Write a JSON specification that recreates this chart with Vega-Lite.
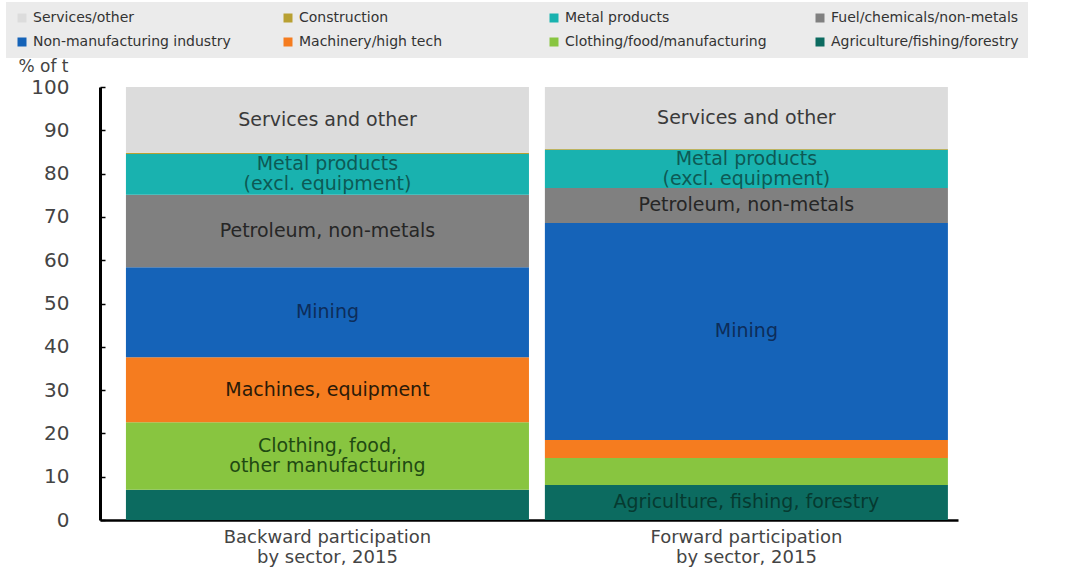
{
  "$schema": "https://vega.github.io/schema/vega-lite/v6.json",
  "width": 858,
  "height": 433,
  "autosize": {"type": "none"},
  "padding": {"left": 100, "top": 87, "right": 108, "bottom": 47},
  "background": "white",
  "config": {"view": {"stroke": null}, "font": "DejaVu Sans"},
  "data": {
    "values": [
      {"part": "Backward participation by sector, 2015", "sector": "Agriculture/fishing/forestry", "k": 1, "value": 7.0, "label": ""},
      {"part": "Backward participation by sector, 2015", "sector": "Clothing/food/manufacturing", "k": 2, "value": 15.6, "label": "Clothing, food,\nother manufacturing"},
      {"part": "Backward participation by sector, 2015", "sector": "Machinery/high tech", "k": 3, "value": 15.0, "label": "Machines, equipment"},
      {"part": "Backward participation by sector, 2015", "sector": "Non-manufacturing industry", "k": 4, "value": 20.8, "label": "Mining"},
      {"part": "Backward participation by sector, 2015", "sector": "Fuel/chemicals/non-metals", "k": 5, "value": 16.7, "label": "Petroleum, non-metals"},
      {"part": "Backward participation by sector, 2015", "sector": "Metal products", "k": 6, "value": 9.4, "label": "Metal products\n(excl. equipment)"},
      {"part": "Backward participation by sector, 2015", "sector": "Construction", "k": 7, "value": 0.3, "label": ""},
      {"part": "Backward participation by sector, 2015", "sector": "Services/other", "k": 8, "value": 15.2, "label": "Services and other"},
      {"part": "Forward participation by sector, 2015", "sector": "Agriculture/fishing/forestry", "k": 1, "value": 8.1, "label": "Agriculture, fishing, forestry"},
      {"part": "Forward participation by sector, 2015", "sector": "Clothing/food/manufacturing", "k": 2, "value": 6.2, "label": ""},
      {"part": "Forward participation by sector, 2015", "sector": "Machinery/high tech", "k": 3, "value": 4.2, "label": ""},
      {"part": "Forward participation by sector, 2015", "sector": "Non-manufacturing industry", "k": 4, "value": 50.1, "label": "Mining"},
      {"part": "Forward participation by sector, 2015", "sector": "Fuel/chemicals/non-metals", "k": 5, "value": 8.1, "label": "Petroleum, non-metals"},
      {"part": "Forward participation by sector, 2015", "sector": "Metal products", "k": 6, "value": 8.8, "label": "Metal products\n(excl. equipment)"},
      {"part": "Forward participation by sector, 2015", "sector": "Construction", "k": 7, "value": 0.2, "label": ""},
      {"part": "Forward participation by sector, 2015", "sector": "Services/other", "k": 8, "value": 14.3, "label": "Services and other"}
    ]
  },
  "transform": [
    {"stack": "value", "groupby": ["part"], "sort": [{"field": "k", "order": "ascending"}], "as": ["v0", "v1"]},
    {"calculate": "(datum.v0 + datum.v1) / 2", "as": "mid"}
  ],
  "encoding": {
    "x": {
      "field": "part",
      "type": "nominal",
      "sort": null,
      "scale": {"paddingInner": 0.038, "paddingOuter": 0.043, "align": 0.72},
      "axis": {
        "title": null,
        "labelAngle": 0,
        "labelFontSize": 18,
        "labelColor": "#444444",
        "labelPadding": 8,
        "labelLineHeight": 20,
        "labelLimit": 500,
        "labelExpr": "[replace(datum.label, ' by sector, 2015', ''), 'by sector, 2015']",
        "ticks": false,
        "domainColor": "#000000",
        "domainWidth": 2.5
      }
    }
  },
  "layer": [
    {
      "mark": {"type": "bar"},
      "encoding": {
        "y": {
          "field": "v0",
          "type": "quantitative",
          "scale": {"domain": [0, 100]},
          "axis": {
            "values": [0, 10, 20, 30, 40, 50, 60, 70, 80, 90, 100],
            "grid": false,
            "labelFontSize": 20,
            "labelColor": "#444444",
            "labelPadding": 36,
            "tickSize": -5,
            "tickColor": "#000000",
            "tickWidth": 1.5,
            "domainColor": "#000000",
            "domainWidth": 3,
            "title": "% of t",
            "titleFontSize": 17,
            "titleFontWeight": "normal",
            "titleColor": "#444444",
            "titleAngle": 0,
            "titleAlign": "left",
            "titleBaseline": "middle",
            "titleX": -82,
            "titleY": -21
          }
        },
        "y2": {"field": "v1"},
        "color": {
          "field": "sector",
          "type": "nominal",
          "scale": {
            "domain": ["Services/other", "Construction", "Metal products", "Fuel/chemicals/non-metals", "Non-manufacturing industry", "Machinery/high tech", "Clothing/food/manufacturing", "Agriculture/fishing/forestry"],
            "range": ["#dcdcdc", "#b8a032", "#19b2af", "#808080", "#1563b8", "#f57c1f", "#88c540", "#0c6b60"]
          },
          "legend": {
            "title": null,
            "orient": "none",
            "legendX": -94,
            "legendY": -85,
            "direction": "horizontal",
            "columns": 4,
            "gridAlign": "all",
            "symbolType": "square",
            "symbolSize": 81,
            "symbolStrokeWidth": 0,
            "labelFontSize": 14,
            "labelColor": "#333333",
            "labelLimit": 300,
            "labelOffset": 4,
            "columnPadding": 46,
            "rowPadding": 10,
            "fillColor": "#ebebeb",
            "padding": 9
          }
        }
      }
    },
    {
      "transform": [{"filter": "datum.label != '' && indexof(datum.label, '\\n') < 0"}],
      "mark": {"type": "text", "align": "center", "baseline": "middle", "fontSize": 19, "lineHeight": 20, "lineBreak": "\n"},
      "encoding": {
        "y": {"field": "mid", "type": "quantitative"},
        "text": {"field": "label"},
        "fill": {
          "field": "sector",
          "type": "nominal",
          "scale": {
            "domain": ["Services/other", "Construction", "Metal products", "Fuel/chemicals/non-metals", "Non-manufacturing industry", "Machinery/high tech", "Clothing/food/manufacturing", "Agriculture/fishing/forestry"],
            "range": ["#3a3a3a", "#3a3a3a", "#0d5a55", "#262626", "#0d2d5a", "#2b1a08", "#1f4a12", "#063a30"]
          },
          "legend": null
        }
      }
    },
    {
      "transform": [{"filter": "indexof(datum.label, '\\n') >= 0"}],
      "mark": {"type": "text", "align": "center", "baseline": "middle", "fontSize": 19, "lineHeight": 20, "lineBreak": "\n", "dy": -10},
      "encoding": {
        "y": {"field": "mid", "type": "quantitative"},
        "text": {"field": "label"},
        "fill": {
          "field": "sector",
          "type": "nominal",
          "scale": {
            "domain": ["Services/other", "Construction", "Metal products", "Fuel/chemicals/non-metals", "Non-manufacturing industry", "Machinery/high tech", "Clothing/food/manufacturing", "Agriculture/fishing/forestry"],
            "range": ["#3a3a3a", "#3a3a3a", "#0d5a55", "#262626", "#0d2d5a", "#2b1a08", "#1f4a12", "#063a30"]
          },
          "legend": null
        }
      }
    }
  ]
}
